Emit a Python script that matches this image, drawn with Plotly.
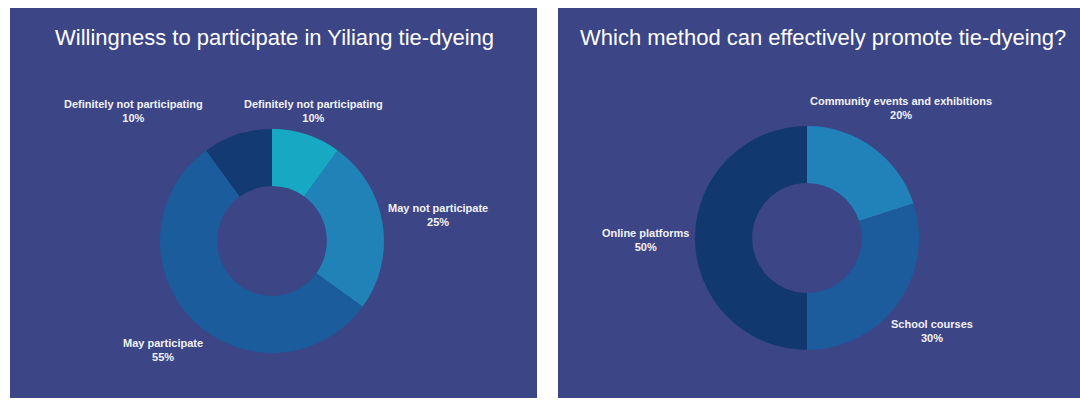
import plotly.graph_objects as go

# ---- data ----
left_title = "Willingness to participate in Yiliang tie-dyeing"
left_labels = ["Definitely not participating", "May not participate", "May participate", "Definitely not participating "]
left_values = [10, 25, 55, 10]

right_title = "Which method can effectively promote tie-dyeing?"
right_labels = ["Community events and exhibitions", "School courses", "Online platforms"]
right_values = [20, 30, 50]

# ---- style ----
W, H = 1080, 400
BG = "#3c4585"
left_colors = ["#17a9c4", "#2182b8", "#1b5c9c", "#133a72"]
right_colors = ["#2082b8", "#1c5c9c", "#123870"]
FONT = "Liberation Sans, Arial, sans-serif"


def px_dom(cx, cy, r):
    return dict(x=[(cx - r) / W, (cx + r) / W], y=[1 - (cy + r) / H, 1 - (cy - r) / H])


fig = go.Figure()
fig.add_trace(go.Pie(
    labels=left_labels, values=left_values, hole=0.49, sort=False,
    direction="clockwise", rotation=0, textinfo="none",
    marker=dict(colors=left_colors, line=dict(width=0)),
    domain=px_dom(272, 241, 112), showlegend=False,
))
fig.add_trace(go.Pie(
    labels=right_labels, values=right_values, hole=0.49, sort=False,
    direction="clockwise", rotation=0, textinfo="none",
    marker=dict(colors=right_colors, line=dict(width=0)),
    domain=px_dom(807, 238, 112), showlegend=False,
))

shapes = [
    dict(type="rect", xref="paper", yref="paper", layer="below", line=dict(width=0), fillcolor=BG,
         x0=10 / W, x1=537 / W, y0=1 - 398 / H, y1=1 - 8 / H),
    dict(type="rect", xref="paper", yref="paper", layer="below", line=dict(width=0), fillcolor=BG,
         x0=558 / W, x1=1.0, y0=1 - 398 / H, y1=1 - 8 / H),
]

annotations = []


def add_text(text, x, y, size, bold=False, color="#ffffff"):
    annotations.append(dict(
        text=f"<b>{text}</b>" if bold else text, x=x / W, y=1 - y / H, xref="paper", yref="paper",
        showarrow=False, xanchor="center", yanchor="middle",
        font=dict(family=FONT, size=size, color=color),
    ))


add_text(left_title, 274.5, 38, 22)
add_text(right_title, 823, 38, 22)

# left labels (pixel positions of the label centres)
left_pos = [(313, 111), (438, 215), (163, 350), (133, 111)]
for lab, v, (x, y) in zip(left_labels, left_values, left_pos):
    add_text(f"{lab.strip()}<br>{v}%", x, y, 11, bold=True, color="#f2f2f6")

right_pos = [(901, 108), (932, 331), (645, 240)]
for lab, v, (x, y) in zip(right_labels, right_values, right_pos):
    add_text(f"{lab}<br>{v}%", x, y, 11, bold=True, color="#f2f2f6")

fig.update_layout(
    width=W, height=H, margin=dict(l=0, r=0, t=0, b=0),
    paper_bgcolor="#ffffff", plot_bgcolor="#ffffff",
    shapes=shapes, annotations=annotations,
)

fig.write_html("out.html")
